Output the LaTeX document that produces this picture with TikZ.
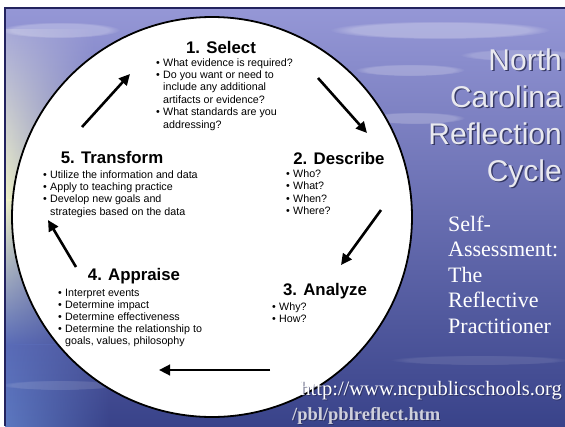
\documentclass[tikz,border=0pt]{standalone}
\usepackage{fontspec}
\setmainfont{Liberation Sans}
\newfontfamily\serifrm{Liberation Serif}
\usetikzlibrary{arrows.meta,fadings}
\definecolor{bgA}{HTML}{9597D6}
\definecolor{bgB}{HTML}{6870C0}
\definecolor{bgC}{HTML}{39438A}
\definecolor{frameC}{HTML}{23235E}
\definecolor{glowL}{HTML}{A8AAD8}
\definecolor{glowY}{HTML}{EDF0C6}
\definecolor{glowG}{HTML}{A9DACB}
\definecolor{glowB}{HTML}{5A6CB8}
\definecolor{lowL}{HTML}{5C78C0}
\definecolor{titleC}{HTML}{E9E9EF}
\definecolor{shadowC}{HTML}{252850}
\definecolor{urlB}{HTML}{CFD0DC}
\tikzfading[name=fadeR, left color=transparent!0, right color=transparent!100]
\newcommand\bl{\makebox[7pt][l]{\textbullet}}
\newcommand\ind{\hspace*{7pt}}
\begin{document}
\begin{tikzpicture}[x=1pt,y=-1pt,
  heading/.style={font=\fontsize{16.8}{18}\selectfont\bfseries, inner sep=0, anchor=base},
  blist/.style={inner sep=0, anchor=base west},
  cyclearrow/.style={line width=2.6pt, -{Triangle[length=11pt,width=10.5pt]}},
  titletext/.style={font=\fontsize{30}{36}\selectfont, inner sep=0, anchor=base east},
  subtext/.style={font=\serifrm\fontsize{22}{25.5}\selectfont, inner sep=0, anchor=base west},
  urltext/.style={font=\serifrm\fontsize{20.5}{24}\selectfont, inner sep=0},
  streak/.style={white, opacity=#1, path fading=circle with fuzzy edge 20 percent}
]
\useasboundingbox (0,0) rectangle (565,426);
% background photo
\shade[top color=bgA, middle color=bgB, bottom color=bgC] (5,8) rectangle (565,426);
\shade[top color=glowL, bottom color=glowY, path fading=fadeR] (5,30) rectangle (95,200);
\shade[top color=glowY, middle color=glowG, bottom color=glowB, path fading=fadeR] (5,200) rectangle (95,345);
\shade[top color=glowB, bottom color=lowL, path fading=fadeR] (5,345) rectangle (110,426);
\fill[streak=0.28] (440,30) ellipse (110pt and 9pt);
\fill[streak=0.22] (410,70) ellipse (55pt and 6pt);
\fill[streak=0.22] (415,118) ellipse (50pt and 6pt);
\fill[streak=0.18] (520,55) ellipse (60pt and 6pt);
\fill[streak=0.25] (60,30) ellipse (60pt and 8pt);
\fill[streak=0.10] (480,360) ellipse (90pt and 5pt);
\fill[streak=0.12] (60,385) ellipse (60pt and 5pt);
\draw[frameC, line width=1.5pt] (5,426) -- (5,8) -- (565,8);
% circle
\draw[line width=1.8pt, fill=white] (212,217) circle[radius=200pt];
% headings
\node[heading] (h1) at (221,53) {1. Select};
\node[heading] (h2) at (339,164) {2. Describe};
\node[heading] (h3) at (325,295) {3. Analyze};
\node[heading] (h4) at (134,280) {4. Appraise};
\node[heading] (h5) at (112,163) {5. Transform};
% lists
\node[blist, font=\fontsize{10.7}{12.4}\selectfont] (l1) at (156,66) {\begin{tabular}[t]{@{}l@{}}
\bl What evidence is required?\\
\bl Do you want or need to\\
\ind include any additional\\
\ind artifacts or evidence?\\
\bl What standards are you\\
\ind addressing?\end{tabular}};
\node[blist, font=\fontsize{10.7}{12.5}\selectfont] (l2) at (286,177) {\begin{tabular}[t]{@{}l@{}}
\bl Who?\\ \bl What?\\ \bl When?\\ \bl Where?\end{tabular}};
\node[blist, font=\fontsize{10.7}{12.2}\selectfont] (l3) at (272,310) {\begin{tabular}[t]{@{}l@{}}
\bl Why?\\ \bl How?\end{tabular}};
\node[blist, font=\fontsize{10.7}{12.2}\selectfont] (l4) at (58,296) {\begin{tabular}[t]{@{}l@{}}
\bl Interpret events\\
\bl Determine impact\\
\bl Determine effectiveness\\
\bl Determine the relationship to\\
\ind goals, values, philosophy\end{tabular}};
\node[blist, font=\fontsize{10.7}{12.4}\selectfont] (l5) at (43,178) {\begin{tabular}[t]{@{}l@{}}
\bl Utilize the information and data\\
\bl Apply to teaching practice\\
\bl Develop new goals and\\
\ind strategies based on the data\end{tabular}};
% arrows
\coordinate (a51s) at (82,127);  \coordinate (a51e) at (130,74);
\coordinate (a12s) at (318,78);  \coordinate (a12e) at (367,133);
\coordinate (a23s) at (381,210); \coordinate (a23e) at (341,265);
\coordinate (a34s) at (270,370); \coordinate (a34e) at (159,370);
\coordinate (a45s) at (76,267);  \coordinate (a45e) at (48,220);
\draw[cyclearrow] (a51s) -- (a51e);
\draw[cyclearrow] (a12s) -- (a12e);
\draw[cyclearrow] (a23s) -- (a23e);
\draw[cyclearrow] (a34s) -- (a34e);
\draw[cyclearrow] (a45s) -- (a45e);
% title
\foreach \w/\yy/\n in {North/70/tn, Carolina/107/tc, Reflection/144/tr, Cycle/181/ty}{
  \node[titletext, text=shadowC, opacity=0.8] (\n s) at (563.5,\yy+1.5) {\w};
  \node[titletext, text=titleC] (\n) at (562,\yy) {\w};
}
% subtitle
\node[subtext, text=white] (sub) at (448,231) {\begin{tabular}[t]{@{}l@{}}
Self-\\ Assessment:\\ The\\ Reflective\\ Practitioner\end{tabular}};
% url
\node[urltext, anchor=base east, text=shadowC, opacity=0.7] (url1s) at (563,396) {http://www.ncpublicschools.org};
\node[urltext, anchor=base east, text=white] (url1) at (562,395) {http://www.ncpublicschools.org};
\node[urltext, anchor=base west, text=shadowC, opacity=0.6, font=\serifrm\bfseries\fontsize{18.5}{24}\selectfont] (url2s) at (293,421) {/pbl/pblreflect.htm};
\node[urltext, anchor=base west, text=urlB, font=\serifrm\bfseries\fontsize{18.5}{24}\selectfont] (url2) at (292,420) {/pbl/pblreflect.htm};
\end{tikzpicture}
\end{document}
